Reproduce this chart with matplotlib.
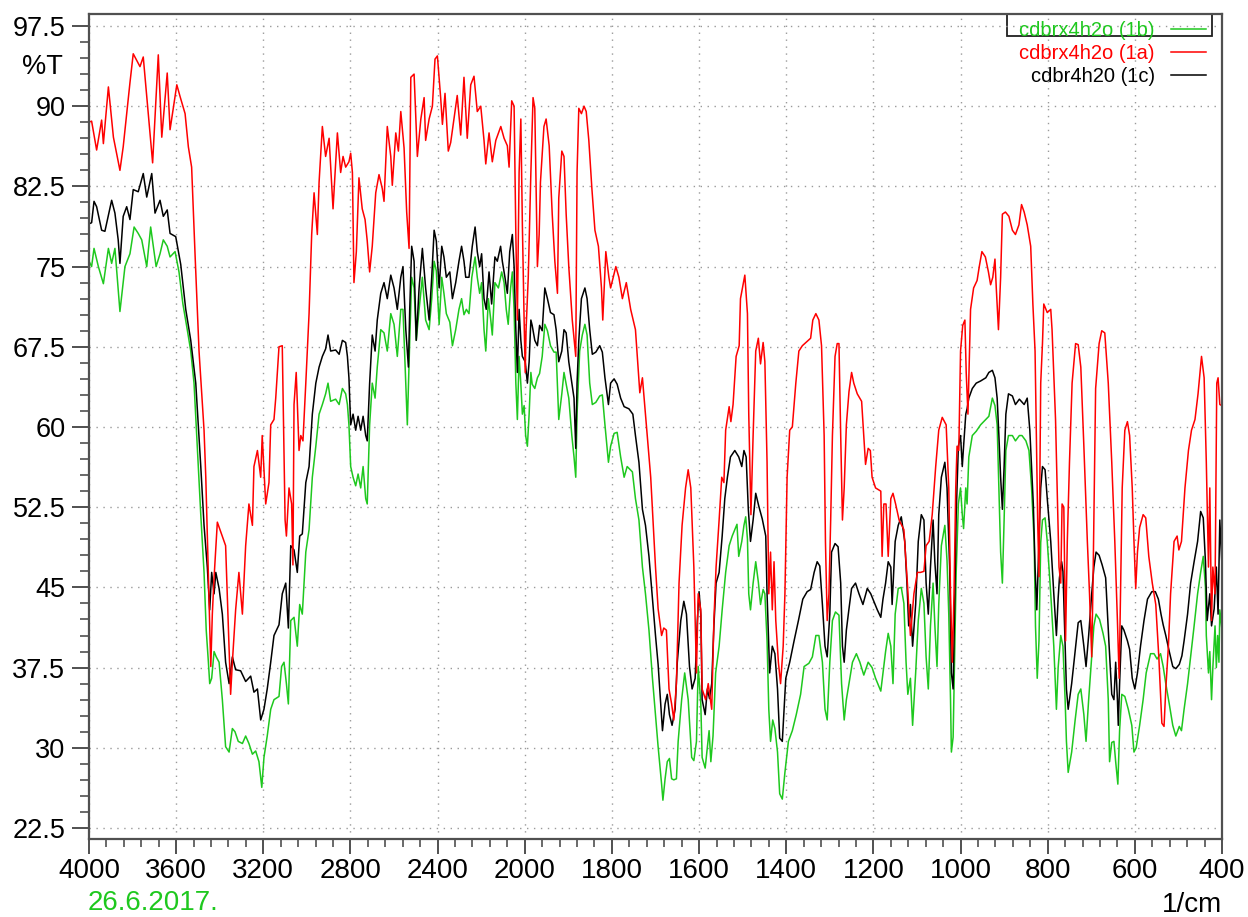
import numpy as np
import matplotlib
matplotlib.use( "Agg" )
import matplotlib.pyplot   as plt
from matplotlib.patches    import Rectangle
from matplotlib.ticker     import FixedLocator, FuncFormatter

plt.rcParams["font.family"] = [ "Liberation Sans", "DejaVu Sans" ]

# ========================================================= #
# ===  data                   === #
# ========================================================= #

# --- cdbrx4h2o (1a) : red --- #
wn_1a = [ 4000, 3988, 3965, 3942, 3934, 3911, 3888, 3858, 3843, 3812, 3797, 3766, 3751, 3708, 3682,
          3666, 3641, 3628, 3597, 3582, 3559, 3544, 3529, 3513, 3495, 3472, 3464, 3457, 3441, 3434,
          3426, 3411, 3373, 3350, 3342, 3327, 3312, 3296, 3281, 3266, 3250, 3243, 3227, 3212, 3205,
          3189, 3174, 3166, 3151, 3143, 3128, 3113, 3100, 3094, 3082, 3070, 3064, 3059, 3049, 3036,
          3028, 3018, 3005, 2990, 2978, 2967, 2952, 2944, 2929, 2914, 2898, 2880, 2860, 2845, 2834,
          2822, 2807, 2799, 2791, 2784, 2773, 2761, 2746, 2733, 2723, 2712, 2700, 2684, 2669, 2654,
          2646, 2631, 2615, 2608, 2592, 2580, 2569, 2554, 2542, 2531, 2523, 2508, 2493, 2477, 2462,
          2455, 2439, 2424, 2412, 2401, 2386, 2378, 2366, 2351, 2340, 2325, 2310, 2294, 2279, 2264,
          2248, 2233, 2218, 2202, 2187, 2179, 2164, 2149, 2133, 2110, 2095, 2080, 2072, 2060, 2049,
          2041, 2034, 2026, 2018, 2011, 2003, 1999, 1997, 1992, 1986, 1981, 1977, 1971, 1967, 1964,
          1956, 1951, 1944, 1937, 1931, 1925, 1922, 1915, 1910, 1905, 1899, 1891, 1883, 1880, 1876,
          1870, 1864, 1859, 1853, 1846, 1839, 1831, 1824, 1821, 1814, 1807, 1803, 1791, 1784, 1776,
          1767, 1757, 1746, 1736, 1730, 1723, 1711, 1700, 1694, 1686, 1681, 1675, 1669, 1663, 1658,
          1652, 1646, 1639, 1631, 1625, 1619, 1612, 1606, 1602, 1596, 1593, 1585, 1579, 1571, 1566,
          1561, 1554, 1548, 1543, 1539, 1531, 1527, 1522, 1515, 1508, 1505, 1499, 1495, 1489, 1486,
          1481, 1476, 1470, 1464, 1459, 1453, 1449, 1444, 1440, 1436, 1432, 1428, 1424, 1418, 1413,
          1407, 1403, 1398, 1392, 1386, 1378, 1371, 1363, 1355, 1344, 1339, 1332, 1325, 1319, 1313,
          1310, 1306, 1302, 1298, 1294, 1288, 1283, 1279, 1275, 1271, 1267, 1262, 1256, 1250, 1245,
          1237, 1227, 1222, 1218, 1212, 1207, 1203, 1195, 1183, 1180, 1176, 1171, 1166, 1160, 1155,
          1149, 1141, 1130, 1122, 1115, 1107, 1099, 1092, 1084, 1079, 1072, 1065, 1057, 1050, 1042,
          1033, 1027, 1023, 1019, 1015, 1011, 1008, 1004, 1000,  995,  990,  987,  983,  977,  970,
           962,  957,  951,  943,  936,  931,  926,  921,  918,  913,  908,  904,  897,  889,  881,
           874,  866,  860,  854,  847,  839,  834,  829,  826,  823,  820,  816,  812,  809,  801,
           793,  790,  782,  774,  770,  767,  763,  759,  755,  750,  744,  736,  730,  724,  717,
           709,  704,  699,  696,  690,  682,  676,  669,  661,  653,  646,  640,  636,  633,  629,
           623,  617,  612,  606,  602,  598,  594,  589,  581,  575,  568,  560,  552,  545,  538,
           533,  529,  523,  518,  510,  503,  499,  493,  485,  477,  470,  462,  455,  447,  441,
           436,  431,  428,  424,  421,  416,  412,  409,  405,  400 ]
t_1a  = [ 88.5, 88.6, 85.9, 88.7, 86.5, 91.8, 87.1, 84.0, 86.2, 92.2, 94.9, 93.7, 94.6, 84.7, 94.8,
          87.1, 93.1, 87.8, 92.0, 90.9, 89.3, 86.2, 84.3, 76.0, 67.1, 59.7, 55.3, 49.8, 37.6, 42.5,
          45.9, 51.1, 48.9, 35.0, 38.0, 42.9, 46.4, 42.5, 48.9, 52.8, 50.8, 56.3, 57.8, 55.3, 59.2,
          52.8, 54.8, 60.2, 60.7, 62.7, 67.5, 67.6, 51.3, 49.8, 54.3, 52.8, 47.1, 62.1, 65.1, 57.8,
          59.2, 58.7, 64.1, 70.6, 78.0, 81.9, 78.0, 82.9, 88.1, 85.3, 87.0, 80.4, 87.5, 83.8, 85.3,
          84.3, 84.8, 85.6, 83.8, 73.5, 76.4, 83.3, 80.4, 79.4, 77.4, 74.5, 76.9, 81.9, 83.6, 82.3,
          81.1, 88.1, 85.3, 82.6, 87.5, 85.8, 89.5, 86.1, 80.1, 76.7, 92.7, 93.0, 85.3, 88.8, 90.8,
          86.8, 88.8, 90.0, 94.4, 94.7, 90.8, 88.3, 91.2, 85.8, 86.6, 88.8, 91.0, 87.3, 92.7, 87.0,
          92.0, 92.8, 89.5, 90.0, 86.8, 84.6, 87.5, 84.8, 86.8, 88.1, 87.0, 86.3, 84.3, 90.5, 90.0,
          78.0, 70.0, 83.8, 88.8, 78.9, 70.0, 65.1, 69.1, 74.0, 83.8, 90.8, 89.8, 75.0, 78.0, 82.9,
          88.1, 88.8, 86.3, 79.9, 75.5, 72.5, 81.4, 85.8, 85.3, 79.9, 75.0, 70.0, 66.6, 83.8, 89.8,
          89.3, 90.0, 89.5, 86.8, 82.3, 78.4, 76.9, 73.0, 70.0, 76.4, 74.0, 73.0, 75.0, 74.0, 72.0,
          73.5, 71.0, 69.1, 63.2, 64.6, 61.2, 55.3, 46.9, 43.0, 40.5, 41.2, 41.0, 35.5, 34.1, 32.6,
          36.0, 45.4, 50.8, 54.3, 56.0, 54.3, 46.9, 37.0, 44.4, 42.9, 35.5, 34.5, 36.0, 33.6, 41.9,
          46.9, 51.3, 55.3, 54.8, 59.7, 61.9, 60.5, 62.1, 66.6, 67.6, 72.0, 73.3, 74.2, 70.6, 61.2,
          51.8, 59.2, 67.1, 68.3, 65.9, 67.9, 66.1, 56.7, 44.4, 48.3, 42.9, 47.4, 41.9, 38.0, 36.0,
          39.5, 44.4, 55.3, 59.7, 60.0, 64.1, 67.1, 67.6, 67.9, 68.3, 70.0, 70.6, 70.0, 67.6, 59.2,
          49.3, 41.9, 44.4, 51.3, 59.2, 66.6, 67.8, 67.8, 59.2, 51.3, 54.3, 60.2, 63.3, 65.1, 64.1,
          63.1, 62.4, 59.2, 56.5, 58.0, 57.8, 55.3, 54.3, 54.0, 47.9, 52.8, 52.8, 47.9, 53.3, 53.8,
          52.8, 51.3, 50.4, 45.4, 40.5, 44.4, 46.4, 46.4, 46.5, 48.9, 49.3, 51.8, 56.3, 59.7, 60.9,
          60.2, 54.3, 44.4, 38.0, 44.4, 54.3, 58.2, 57.8, 67.1, 69.5, 70.0, 65.1, 61.2, 71.0, 73.0,
          73.7, 75.0, 76.4, 75.9, 74.5, 73.3, 74.0, 75.7, 73.0, 69.1, 74.0, 79.9, 80.1, 79.7, 78.4,
          78.0, 78.9, 80.8, 80.1, 78.9, 76.9, 71.5, 67.1, 59.2, 51.3, 46.0, 64.1, 67.8, 71.5, 70.7,
          71.0, 69.1, 60.7, 46.9, 45.4, 52.8, 52.5, 40.0, 49.3, 56.7, 64.1, 67.8, 67.7, 65.6, 58.2,
          49.3, 44.4, 38.5, 45.4, 63.6, 67.8, 69.0, 68.8, 64.1, 56.7, 49.3, 41.9, 36.5, 44.4, 54.3,
          59.7, 60.5, 59.2, 54.3, 49.3, 44.9, 48.3, 50.6, 51.8, 51.5, 47.9, 45.4, 43.4, 38.5, 32.3,
          32.0, 35.5, 39.5, 44.4, 49.3, 49.8, 48.5, 49.3, 54.3, 57.8, 59.7, 60.7, 63.1, 66.6, 64.6,
          56.7, 46.9, 54.3, 41.9, 46.9, 44.4, 64.1, 64.6, 62.1, 62.0 ]

# --- cdbr4h20 (1c) : black --- #
wn_1c = [ 4000, 3988, 3977, 3965, 3942, 3927, 3896, 3881, 3866, 3858, 3843, 3827, 3812, 3797, 3774,
          3751, 3735, 3712, 3697, 3674, 3659, 3641, 3628, 3602, 3579, 3556, 3533, 3510, 3487, 3472,
          3457, 3446, 3437, 3426, 3418, 3403, 3388, 3373, 3357, 3342, 3327, 3304, 3281, 3258, 3243,
          3227, 3212, 3197, 3182, 3166, 3151, 3128, 3113, 3097, 3085, 3074, 3059, 3044, 3033, 3021,
          3005, 2990, 2975, 2959, 2944, 2929, 2914, 2903, 2891, 2868, 2852, 2837, 2822, 2814, 2807,
          2799, 2788, 2776, 2765, 2753, 2742, 2730, 2723, 2712, 2700, 2687, 2677, 2661, 2646, 2631,
          2615, 2600, 2585, 2569, 2559, 2546, 2534, 2528, 2519, 2508, 2498, 2485, 2470, 2455, 2439,
          2427, 2416, 2406, 2393, 2381, 2371, 2360, 2344, 2332, 2317, 2302, 2290, 2279, 2271, 2256,
          2241, 2228, 2218, 2207, 2198, 2187, 2177, 2164, 2152, 2137, 2126, 2111, 2103, 2091, 2080,
          2069, 2057, 2049, 2041, 2034, 2026, 2018, 2011, 1999, 1994, 1990, 1986, 1983, 1977, 1971,
          1966, 1960, 1954, 1948, 1941, 1933, 1928, 1922, 1915, 1910, 1905, 1899, 1892, 1887, 1883,
          1880, 1876, 1870, 1862, 1857, 1851, 1845, 1837, 1828, 1822, 1816, 1808, 1803, 1795, 1788,
          1780, 1772, 1761, 1752, 1746, 1738, 1730, 1723, 1715, 1707, 1700, 1694, 1684, 1678, 1673,
          1668, 1662, 1655, 1650, 1642, 1635, 1629, 1622, 1616, 1609, 1604, 1600, 1596, 1593, 1586,
          1581, 1576, 1571, 1566, 1561, 1554, 1547, 1541, 1535, 1528, 1518, 1509, 1502, 1497, 1492,
          1487, 1482, 1476, 1470, 1463, 1455, 1447, 1444, 1438, 1432, 1426, 1420, 1415, 1409, 1401,
          1392, 1382, 1372, 1362, 1352, 1344, 1336, 1329, 1323, 1317, 1311, 1306, 1300, 1296, 1288,
          1281, 1275, 1271, 1267, 1262, 1256, 1250, 1241, 1233, 1224, 1214, 1206, 1198, 1191, 1183,
          1178, 1172, 1166, 1160, 1157, 1150, 1143, 1136, 1128, 1123, 1119, 1115, 1110, 1103, 1097,
          1090, 1084, 1079, 1074, 1069, 1063, 1059, 1054, 1050, 1044, 1036, 1031, 1025, 1021, 1017,
          1013, 1010, 1005, 1000,  996,  993,  988,  985,  981,  973,  964,  954,  942,  935,  927,
           921,  916,  912,  908,  904,  900,  896,  890,  881,  874,  865,  854,  847,  841,  837,
           833,  829,  825,  820,  816,  812,  806,  801,  793,  786,  780,  776,  773,  768,  765,
           760,  757,  753,  745,  737,  730,  724,  717,  712,  706,  699,  694,  689,  682,  675,
           667,  659,  653,  648,  644,  640,  638,  635,  630,  625,  617,  612,  606,  600,  594,
           587,  579,  571,  561,  553,  546,  540,  535,  529,  521,  513,  506,  498,  492,  487,
           479,  472,  464,  456,  449,  443,  438,  434,  428,  424,  418,  413,  409,  405,  400 ]
t_1c  = [ 79.0, 79.1, 81.1, 80.6, 78.4, 78.3, 81.2, 80.0, 77.5, 75.3, 79.7, 80.6, 79.4, 82.2, 82.0,
          83.7, 81.5, 83.7, 80.0, 81.2, 79.7, 80.3, 78.1, 77.8, 75.2, 71.0, 68.1, 64.1, 56.3, 50.8,
          46.9, 42.9, 46.4, 44.4, 46.4, 44.9, 42.5, 38.0, 36.0, 38.5, 37.3, 37.2, 36.2, 36.7, 35.2,
          35.5, 32.6, 33.6, 35.5, 38.0, 40.5, 41.5, 44.4, 45.4, 41.2, 48.9, 48.5, 46.4, 49.8, 50.0,
          54.8, 56.3, 61.2, 64.1, 65.6, 66.6, 67.3, 68.6, 67.1, 67.2, 66.8, 68.1, 67.9, 66.6, 64.6,
          60.2, 61.2, 59.7, 61.0, 59.7, 61.0, 59.2, 58.7, 64.1, 68.6, 67.1, 70.0, 72.5, 73.5, 72.0,
          74.2, 73.0, 71.0, 74.0, 75.0, 69.1, 65.6, 71.0, 76.9, 75.5, 68.1, 73.0, 76.7, 73.0, 70.0,
          74.0, 78.4, 77.4, 73.0, 76.9, 75.9, 74.0, 74.5, 72.0, 73.5, 75.5, 76.9, 75.5, 74.0, 74.0,
          76.9, 78.7, 76.4, 75.0, 76.2, 72.0, 71.0, 74.5, 71.5, 75.9, 75.5, 76.9, 75.5, 74.0, 72.5,
          76.4, 78.0, 75.0, 69.1, 65.1, 71.0, 68.1, 66.6, 66.1, 64.1, 66.1, 70.0, 69.5, 68.1, 67.6,
          69.5, 69.0, 73.0, 72.0, 70.7, 70.5, 69.1, 66.1, 67.1, 69.1, 68.8, 66.1, 64.1, 62.7, 58.0,
          64.1, 68.1, 72.0, 73.0, 72.0, 69.1, 66.8, 67.0, 67.6, 67.0, 64.6, 62.1, 64.1, 64.5, 64.0,
          62.7, 61.9, 61.7, 61.2, 59.2, 56.7, 52.3, 50.8, 47.9, 43.9, 40.5, 37.8, 31.6, 34.1, 35.0,
          33.1, 32.1, 33.6, 38.0, 41.9, 43.7, 42.5, 37.6, 35.5, 36.5, 41.9, 44.6, 42.4, 34.5, 33.1,
          35.5, 34.6, 36.0, 41.4, 45.4, 46.4, 49.8, 53.3, 55.3, 57.2, 57.8, 57.2, 56.3, 57.8, 57.2,
          52.3, 49.3, 51.3, 53.8, 52.6, 51.4, 49.8, 44.4, 37.0, 39.5, 38.8, 35.5, 30.9, 30.6, 36.5,
          38.0, 40.0, 41.9, 43.9, 44.6, 44.8, 46.4, 47.4, 47.0, 43.4, 39.5, 38.5, 42.5, 48.3, 49.1,
          48.8, 45.4, 39.5, 38.0, 41.0, 43.0, 44.9, 45.4, 44.4, 43.4, 44.9, 44.4, 43.6, 42.9, 42.2,
          43.9, 45.4, 47.4, 46.9, 43.4, 49.3, 50.8, 51.6, 49.3, 45.4, 41.4, 43.4, 39.5, 43.4, 49.3,
          51.8, 51.3, 45.4, 42.5, 46.9, 51.3, 47.4, 44.4, 51.8, 55.3, 56.7, 54.3, 46.9, 37.0, 35.5,
          44.4, 51.8, 58.2, 59.2, 56.3, 58.2, 61.2, 61.7, 62.7, 63.6, 64.1, 64.3, 64.6, 65.1, 65.3,
          64.6, 62.7, 59.2, 55.3, 52.3, 56.3, 61.2, 63.1, 62.9, 62.1, 62.6, 62.1, 62.7, 59.7, 56.3,
          52.8, 46.9, 42.9, 49.3, 54.3, 56.3, 56.0, 53.3, 49.3, 44.4, 40.5, 44.0, 45.9, 47.4, 46.5,
          39.5, 35.5, 33.6, 36.0, 39.0, 41.7, 41.9, 39.5, 37.6, 40.5, 44.4, 46.9, 48.3, 48.0, 47.1,
          45.9, 39.5, 35.0, 34.5, 38.0, 34.5, 32.1, 36.0, 41.4, 41.0, 40.0, 39.2, 36.5, 35.5, 37.0,
          39.5, 41.9, 43.9, 44.6, 44.6, 43.9, 42.5, 41.5, 40.5, 39.0, 37.6, 37.4, 37.8, 38.6, 40.0,
          42.5, 45.4, 47.4, 49.3, 52.1, 51.5, 47.4, 41.9, 44.4, 41.4, 43.0, 46.9, 42.5, 51.3, 47.0 ]

# --- cdbrx4h2o (1b) : green --- #
wn_1b = [ 4000, 3988, 3977, 3957, 3934, 3911, 3896, 3881, 3858, 3835, 3812, 3793, 3774, 3758, 3735,
          3717, 3692, 3674, 3659, 3641, 3628, 3605, 3587, 3569, 3549, 3533, 3518, 3503, 3487, 3472,
          3462, 3452, 3446, 3437, 3426, 3416, 3403, 3388, 3373, 3357, 3342, 3330, 3315, 3296, 3281,
          3266, 3250, 3235, 3220, 3207, 3197, 3182, 3166, 3151, 3128, 3116, 3105, 3094, 3085, 3074,
          3059, 3044, 3033, 3021, 3005, 2990, 2975, 2959, 2944, 2929, 2914, 2903, 2891, 2868, 2852,
          2837, 2822, 2814, 2807, 2799, 2788, 2776, 2765, 2753, 2742, 2730, 2723, 2712, 2700, 2687,
          2677, 2661, 2646, 2631, 2615, 2600, 2585, 2569, 2559, 2546, 2539, 2528, 2519, 2508, 2498,
          2485, 2470, 2455, 2439, 2427, 2416, 2406, 2393, 2381, 2371, 2360, 2344, 2332, 2317, 2302,
          2290, 2279, 2268, 2256, 2243, 2228, 2218, 2207, 2198, 2187, 2179, 2167, 2156, 2149, 2137,
          2121, 2106, 2095, 2085, 2076, 2065, 2057, 2049, 2041, 2034, 2026, 2018, 2011, 2003, 1998,
          1994, 1990, 1986, 1983, 1977, 1971, 1966, 1960, 1954, 1948, 1941, 1933, 1928, 1922, 1915,
          1910, 1905, 1899, 1892, 1887, 1883, 1880, 1874, 1868, 1862, 1857, 1851, 1845, 1837, 1828,
          1822, 1816, 1808, 1803, 1795, 1788, 1780, 1772, 1765, 1753, 1746, 1738, 1730, 1723, 1715,
          1707, 1700, 1694, 1686, 1683, 1678, 1673, 1668, 1663, 1658, 1652, 1648, 1640, 1633, 1625,
          1617, 1612, 1606, 1602, 1596, 1593, 1586, 1581, 1577, 1573, 1568, 1562, 1554, 1547, 1539,
          1531, 1524, 1518, 1513, 1509, 1502, 1497, 1493, 1489, 1486, 1482, 1476, 1470, 1464, 1459,
          1453, 1449, 1444, 1440, 1436, 1431, 1426, 1420, 1415, 1409, 1403, 1395, 1386, 1377, 1367,
          1359, 1348, 1340, 1332, 1325, 1317, 1311, 1306, 1300, 1294, 1287, 1279, 1273, 1267, 1262,
          1256, 1248, 1239, 1231, 1222, 1212, 1203, 1195, 1183, 1178, 1172, 1166, 1160, 1155, 1150,
          1143, 1136, 1130, 1125, 1121, 1115, 1110, 1103, 1097, 1090, 1084, 1079, 1074, 1069, 1063,
          1059, 1054, 1050, 1044, 1036, 1031, 1027, 1023, 1021, 1017, 1013, 1010, 1005, 1000,  996,
           993,  988,  985,  981,  973,  964,  954,  942,  935,  927,  921,  916,  912,  908,  904,
           900,  896,  890,  881,  874,  865,  859,  850,  843,  837,  831,  828,  824,  820,  816,
           812,  806,  801,  793,  786,  780,  776,  770,  765,  760,  757,  753,  745,  737,  730,
           724,  717,  712,  706,  699,  694,  689,  681,  673,  667,  661,  658,  653,  648,  644,
           639,  635,  630,  623,  615,  607,  602,  597,  589,  581,  574,  564,  556,  549,  541,
           535,  529,  521,  513,  506,  498,  493,  487,  479,  472,  464,  456,  449,  443,  438,
           436,  431,  428,  424,  421,  416,  413,  410,  407,  405,  400 ]
t_1b  = [ 75.5, 75.0, 76.7, 75.0, 73.4, 76.7, 75.3, 76.7, 70.8, 75.0, 76.2, 78.7, 78.1, 77.5, 75.0,
          78.7, 75.0, 76.2, 77.5, 76.9, 75.9, 76.4, 74.5, 71.5, 69.1, 67.1, 64.1, 58.2, 51.8, 46.4,
          41.0, 38.0, 36.0, 36.5, 39.0, 38.5, 38.0, 34.5, 30.1, 29.6, 31.8, 31.5, 30.6, 30.4, 31.1,
          30.4, 29.4, 29.7, 28.7, 26.3, 29.1, 31.1, 33.6, 34.5, 34.8, 37.6, 38.0, 36.0, 34.1, 41.9,
          42.2, 39.5, 43.4, 42.5, 48.3, 50.4, 55.3, 58.2, 61.2, 62.1, 63.1, 64.1, 62.4, 62.6, 62.1,
          63.6, 63.1, 62.1, 60.2, 56.3, 55.3, 54.5, 55.6, 54.3, 56.3, 53.3, 52.8, 60.2, 64.1, 62.7,
          65.6, 69.1, 68.8, 67.1, 70.6, 69.6, 66.6, 71.0, 71.0, 64.1, 60.2, 68.1, 74.0, 73.0, 68.1,
          71.0, 74.0, 70.0, 69.1, 72.0, 75.5, 74.6, 69.6, 74.0, 72.5, 70.6, 69.8, 67.6, 69.1, 71.0,
          72.0, 70.5, 71.0, 70.6, 74.0, 75.9, 74.0, 72.5, 73.5, 69.1, 67.1, 72.0, 70.0, 68.6, 73.5,
          73.0, 74.5, 73.5, 71.0, 69.6, 73.0, 74.5, 71.0, 64.1, 60.7, 66.6, 64.0, 61.2, 62.0, 59.2,
          58.2, 61.2, 65.1, 64.0, 63.6, 64.6, 65.0, 66.6, 69.6, 69.0, 67.6, 67.0, 67.0, 60.7, 63.1,
          65.1, 64.0, 62.7, 59.2, 57.2, 55.3, 61.2, 67.1, 68.6, 69.6, 68.6, 64.1, 62.1, 62.3, 62.9,
          63.0, 60.2, 56.7, 58.2, 59.4, 59.5, 57.2, 55.3, 56.3, 55.8, 53.3, 51.3, 46.9, 44.4, 41.0,
          36.5, 33.1, 30.1, 26.6, 25.1, 27.1, 28.7, 29.0, 27.1, 27.0, 27.1, 30.6, 34.5, 37.0, 34.5,
          29.1, 28.8, 30.6, 37.6, 34.1, 29.1, 28.1, 30.1, 31.6, 28.7, 31.1, 37.0, 39.5, 42.9, 46.4,
          48.9, 49.8, 50.4, 50.9, 47.9, 49.3, 50.8, 51.6, 49.5, 44.4, 42.9, 45.4, 47.4, 45.5, 43.4,
          44.8, 44.4, 40.0, 33.6, 30.6, 32.6, 31.8, 29.6, 25.7, 25.2, 27.7, 30.6, 31.6, 33.1, 35.0,
          37.6, 37.9, 38.5, 40.5, 40.5, 38.0, 33.6, 32.6, 38.0, 41.9, 42.7, 42.4, 36.0, 32.6, 34.5,
          36.0, 38.0, 38.8, 38.0, 36.8, 38.0, 37.5, 36.5, 35.3, 37.0, 39.0, 40.7, 39.5, 36.0, 42.5,
          44.9, 45.0, 43.5, 38.0, 35.0, 36.5, 32.1, 37.0, 41.9, 44.9, 43.5, 38.5, 35.5, 41.4, 45.4,
          41.5, 37.6, 43.4, 48.9, 50.8, 47.5, 42.5, 34.5, 29.6, 31.0, 39.5, 46.4, 52.8, 54.3, 51.8,
          50.5, 54.3, 52.8, 57.2, 59.2, 59.6, 60.2, 60.7, 61.0, 62.7, 62.0, 60.2, 54.3, 48.3, 45.4,
          51.3, 57.8, 59.2, 59.2, 58.7, 59.2, 59.2, 58.7, 57.8, 54.3, 49.3, 41.4, 36.5, 40.0, 49.2,
          51.3, 51.5, 49.3, 44.4, 39.5, 33.6, 37.5, 40.5, 39.5, 34.5, 30.6, 27.7, 29.6, 32.6, 35.0,
          35.5, 33.1, 30.6, 34.5, 38.5, 41.4, 42.5, 42.0, 40.7, 39.5, 34.5, 28.7, 30.5, 30.6, 28.7,
          26.6, 31.6, 35.0, 34.8, 33.6, 32.1, 29.6, 30.0, 32.1, 34.5, 37.0, 38.8, 38.8, 38.3, 38.8,
          37.6, 36.0, 34.1, 32.1, 31.1, 32.0, 31.6, 33.6, 36.0, 38.5, 41.4, 44.4, 46.4, 47.9, 45.0,
          40.5, 37.0, 39.0, 34.5, 37.5, 41.4, 37.5, 40.5, 38.0, 42.9, 41.0 ]

legend_labels = [ "cdbrx4h2o (1b)", "cdbrx4h2o (1a)", "cdbr4h20 (1c)" ]
x_major       = [ 4000, 3600, 3200, 2800, 2400, 2000, 1800, 1600, 1400, 1200, 1000, 800, 600, 400 ]
y_major       = [ 22.5, 30, 37.5, 45, 52.5, 60, 67.5, 75, 82.5, 90, 97.5 ]
date_text     = "26.6.2017."


# ========================================================= #
# ===  compressed wavenumber axis ( x2 above 2000 )      === #
# ========================================================= #
def fwd( x ):
    x = np.asarray( x, dtype=float )
    return( np.where( x > 2000.0, 2000.0 + ( x - 2000.0 ) / 2.0, x ) )

def inv( u ):
    u = np.asarray( u, dtype=float )
    return( np.where( u > 2000.0, 2000.0 + ( u - 2000.0 ) * 2.0, u ) )


# ========================================================= #
# ===  plot                                             === #
# ========================================================= #
green  = "#1ec81e"
red    = "#ff0000"
black  = "#000000"
frame  = "#505050"

fig = plt.figure( figsize=(12.48, 9.17), dpi=100 )
ax  = fig.add_axes( [ 89/1248, 78/917, 1133/1248, 825/917 ] )
ax.set_xscale( "function", functions=( fwd, inv ) )

l_b, = ax.plot( wn_1b, t_1b, color=green, lw=1.1 )
l_c, = ax.plot( wn_1c, t_1c, color=black, lw=1.1 )
l_a, = ax.plot( wn_1a, t_1a, color=red,   lw=1.1 )

ax.set_xlim( 4000, 400 )
ax.set_ylim( 21.47, 98.62 )

# --- ticks --- #
x_minor = [ v for v in list( range( 4000, 2000, -80 ) ) + list( range( 2000, 399, -40 ) )
            if v not in x_major ]
y_minor = [ v for v in np.arange( 22.5, 98.7, 1.5 ) if round( v, 1 ) not in y_major ]
ax.xaxis.set_major_locator( FixedLocator( x_major ) )
ax.xaxis.set_minor_locator( FixedLocator( x_minor ) )
ax.yaxis.set_major_locator( FixedLocator( y_major ) )
ax.yaxis.set_minor_locator( FixedLocator( y_minor ) )
ax.xaxis.set_major_formatter( FuncFormatter( lambda v, p: "%d" % round( v ) ) )
ax.yaxis.set_major_formatter( FuncFormatter( lambda v, p: "%g" % v ) )

ax.tick_params( axis="y", which="major", direction="out", length=12,  width=1.4, color=frame,
                labelsize=19.5, pad=5 )
ax.tick_params( axis="y", which="minor", direction="out", length=6.5, width=1.2, color=frame )
ax.tick_params( axis="x", which="major", direction="out", length=11,  width=1.4, color=frame,
                labelsize=20, pad=3 )
ax.tick_params( axis="x", which="minor", direction="out", length=6,   width=1.2, color=frame )

for s in ax.spines.values():
    s.set_color( frame )
    s.set_linewidth( 1.6 )

ax.grid( True, which="major", color="#9a9a9a", linestyle=(0, (1, 4)), linewidth=1.0 )

# --- legend --- #
leg = ax.legend( [ l_b, l_a, l_c ], legend_labels, loc="upper right",
                 bbox_to_anchor=( 0.986, 0.992 ), frameon=False, markerfirst=False,
                 labelcolor="linecolor", fontsize=14.5, borderpad=0, borderaxespad=0,
                 labelspacing=0.2, handlelength=1.75, handletextpad=0.8 )
ax.add_patch( Rectangle( ( 0.810, 0.9733 ), 0.181, 0.0267, transform=ax.transAxes,
                         fill=False, edgecolor="#202020", linewidth=1.3, clip_on=False ) )

# --- labels --- #
fig.text( 63/1248,   1 - 67/917,  "%T",      fontsize=19.5, ha="right", va="center" )
fig.text( 88/1248,   1 - 903/917, date_text, fontsize=20,   ha="left",  va="center", color=green )
fig.text( 1222/1248, 1 - 905/917, "1/cm",    fontsize=20,   ha="right", va="center" )

fig.savefig( "out.png", dpi=100 )
